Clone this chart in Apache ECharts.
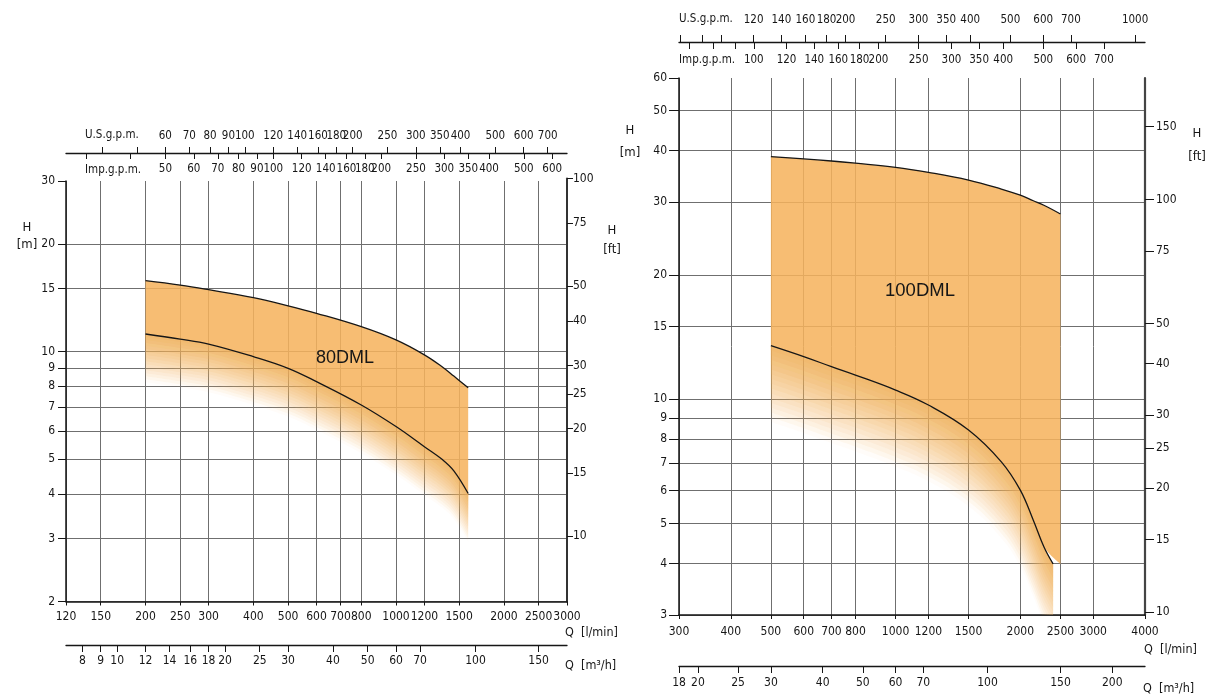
<!DOCTYPE html>
<html><head><meta charset="utf-8">
<script src="https://cdn.jsdelivr.net/npm/echarts@6/dist/echarts.min.js"></script>
<style>html,body{margin:0;padding:0;background:#fff}#c{width:1208px;height:700px}</style>
</head><body><div id="c"></div>
<script>
// ---------- 80DML (left chart) : Q [l/min], H [m]
const q80 = [200, 250, 300, 400, 500, 600, 800, 1000, 1200, 1350, 1450, 1590];
const h80Max = [15.8, 15.35, 14.9, 14.15, 13.43, 12.8, 11.74, 10.78, 9.79, 9.04, 8.54, 7.92];
const h80Min = [11.2, 10.84, 10.5, 9.68, 8.98, 8.24, 7.09, 6.17, 5.42, 4.98, 4.64, 4.01];
// ---------- 100DML (right chart)
const q100Max = [500, 600, 700, 800, 1000, 1200, 1500, 1800, 2000, 2150, 2280, 2500];
const h100Max = [38.7, 38.2, 37.76, 37.3, 36.45, 35.45, 33.96, 32.3, 31.2, 30.25, 29.5, 28.1];
const q100Min = [500, 600, 700, 800, 1000, 1200, 1500, 1800, 2000, 2150, 2280, 2400];
const h100Min = [13.48, 12.68, 11.99, 11.44, 10.52, 9.68, 8.42, 7.05, 6.02, 5.09, 4.39, 3.99];

// ---------- tick values, left chart
const lRangeQ = [120, 3000];
const lRangeH = [2, 30];
const lTicksQ = [120, 150, 200, 250, 300, 400, 500, 600, 700, 800, 1000, 1200, 1500, 2000, 2500, 3000];
const lTicksM3 = [8, 9, 10, 12, 14, 16, 18, 20, 25, 30, 40, 50, 60, 70, 100, 150];
const lTicksUS = [40, 50, 60, 70, 80, 90, 100, 120, 140, 160, 180, 200, 250, 300, 350, 400, 500, 600, 700];
const lLabelsUS = [60, 70, 80, 90, 100, 120, 140, 160, 180, 200, 250, 300, 350, 400, 500, 600, 700];
const lTicksImp = [30, 40, 50, 60, 70, 80, 90, 100, 120, 140, 160, 180, 200, 250, 300, 350, 400, 500, 600];
const lLabelsImp = [50, 60, 70, 80, 90, 100, 120, 140, 160, 180, 200, 250, 300, 350, 400, 500, 600];
const lTicksH = [2, 3, 4, 5, 6, 7, 8, 9, 10, 15, 20, 30];
const lTicksFt = [10, 15, 20, 25, 30, 40, 50, 75, 100];
// ---------- tick values, right chart
const rRangeQ = [300, 4000];
const rRangeH = [3, 60];
const rTicksQ = [300, 400, 500, 600, 700, 800, 1000, 1200, 1500, 2000, 2500, 3000, 4000];
const rTicksM3 = [18, 20, 25, 30, 40, 50, 60, 70, 100, 150, 200];
const rTicksUS = [80, 90, 100, 120, 140, 160, 180, 200, 250, 300, 350, 400, 500, 600, 700, 1000];
const rLabelsUS = [120, 140, 160, 180, 200, 250, 300, 350, 400, 500, 600, 700, 1000];
const rTicksImp = [70, 80, 90, 100, 120, 140, 160, 180, 200, 250, 300, 350, 400, 500, 600, 700];
const rLabelsImp = [100, 120, 140, 160, 180, 200, 250, 300, 350, 400, 500, 600, 700];
const rTicksH = [3, 4, 5, 6, 7, 8, 9, 10, 15, 20, 30, 40, 50, 60];
const rTicksFt = [10, 15, 20, 25, 30, 40, 50, 75, 100, 150];

// unit conversions
const L_US = 3.78541, L_IMP = 4.54609, M3H = 0.06, FT = 3.28084;

const lg = Math.log10;
const FONT = '"Liberation Sans Narrow","DejaVu Sans Condensed","Arial Narrow",sans-serif';
const GRIDC = '#6f6f6f';
const INK = '#161616';

function ax(o) {
  return {
    type: 'value', gridIndex: o.grid, position: o.pos, offset: o.offset || 0,
    min: lg(o.lo), max: lg(o.hi), show: o.show !== false,
    axisLine: { show: o.line !== false, onZero: false, lineStyle: { color: o.lc || INK, width: o.lw || 1.3 } },
    axisTick: { show: true, inside: !!o.inside, length: o.tl || 5, customValues: (o.ticks || []).map(lg),
      lineStyle: { color: INK, width: 1 } },
    axisLabel: { show: true, inside: !!o.inside, margin: o.margin || 8,
      customValues: (o.labels || o.ticks || []).map(lg),
      formatter: v => String(Math.round(Math.pow(10, v))),
      color: INK, fontFamily: FONT, fontSize: o.fs || 12 },
    splitLine: { show: !!o.split, showMaxLine: o.maxLine !== false, lineStyle: { color: GRIDC, width: 1 } },
    splitArea: { show: false }
  };
}

// layout
const G0 = { left: 66, right: 1208 - 567, top: 181, bottom: 700 - 601.5 };
const G1 = { left: 679, right: 1208 - 1145, top: 78, bottom: 700 - 615 };
const g0h = 700 - G0.top - G0.bottom;
const g0px = g0h / lg(lRangeH[1] / lRangeH[0]);
const G2 = { left: G0.left, right: G0.right, bottom: G0.bottom,
  top: G0.top - g0px * lg(100 / (lRangeH[1] * FT)) };

const xAxis = [
  ax({ grid: 0, pos: 'bottom', lo: lRangeQ[0], hi: lRangeQ[1], ticks: lTicksQ, tl: 4, margin: 9, split: true, lw: 1.5 }),
  ax({ grid: 0, pos: 'bottom', offset: 43.5, lo: lRangeQ[0] * M3H, hi: lRangeQ[1] * M3H, ticks: lTicksM3, tl: 7, margin: 10 }),
  ax({ grid: 0, pos: 'top', offset: 28, lo: lRangeQ[0] / L_US, hi: lRangeQ[1] / L_US, ticks: lTicksUS, labels: lLabelsUS, tl: 6, margin: 11, fs: 11.5 }),
  ax({ grid: 0, pos: 'top', offset: 28, lo: lRangeQ[0] / L_IMP, hi: lRangeQ[1] / L_IMP, ticks: lTicksImp, labels: lLabelsImp, tl: 6, margin: 10, inside: true, line: false, fs: 11.5 }),
  ax({ grid: 2, pos: 'bottom', lo: lRangeQ[0], hi: lRangeQ[1], ticks: [], show: false }),
  ax({ grid: 1, pos: 'bottom', lo: rRangeQ[0], hi: rRangeQ[1], ticks: rTicksQ, tl: 4, margin: 11, split: true, lw: 1.5 }),
  ax({ grid: 1, pos: 'bottom', offset: 51, lo: rRangeQ[0] * M3H, hi: rRangeQ[1] * M3H, ticks: rTicksM3, tl: 7, margin: 11 }),
  ax({ grid: 1, pos: 'top', offset: 36, lo: rRangeQ[0] / L_US, hi: rRangeQ[1] / L_US, ticks: rTicksUS, labels: rLabelsUS, tl: 7, margin: 16, fs: 11.5 }),
  ax({ grid: 1, pos: 'top', offset: 36, lo: rRangeQ[0] / L_IMP, hi: rRangeQ[1] / L_IMP, ticks: rTicksImp, labels: rLabelsImp, tl: 7, margin: 12, inside: true, line: false, fs: 11.5 })
];
const yAxis = [
  ax({ grid: 0, pos: 'left', lo: lRangeH[0], hi: lRangeH[1], ticks: lTicksH, tl: 8, margin: 11, split: true, maxLine: false, lw: 1.5 }),
  ax({ grid: 2, pos: 'right', lo: lRangeH[0] * FT, hi: 100, ticks: lTicksFt, tl: 6, margin: 6, lw: 2, lc: '#333' }),
  ax({ grid: 1, pos: 'left', lo: rRangeH[0], hi: rRangeH[1], ticks: rTicksH, tl: 10, margin: 12, split: true, maxLine: false, lw: 1.5 }),
  ax({ grid: 1, pos: 'right', lo: rRangeH[0] * FT, hi: rRangeH[1] * FT, ticks: rTicksFt, tl: 9, margin: 11, lw: 2.2, lc: '#444' })
];

const ORANGE = 'rgb(246,178,92)';
const BAND_A = 0.86;
const SM = 0.4;

// data points are given as [y, x] with encode so that stacking happens on the y (head) dimension
function pts(qs, fn) { return qs.map((q, i) => [fn(i), lg(q)]); }

function pumpSeries(xi, yi, qMin, hMin, qMax, hMax, D, n, id) {
  const out = [];
  const hidden = { width: 0, opacity: 0 };
  const base = { type: 'line', xAxisIndex: xi, yAxisIndex: yi, smooth: SM, symbol: 'none', silent: true,
    encode: { x: 1, y: 0 } };
  // fade below the minimum curve: overlapping layers approximating a soft gradient
  const R = [];
  for (let m = 1; m <= n; m++) {
    const f = (m - 0.5) / n;
    R[m] = 1 - BAND_A * (1 - Math.pow(f, 1.3));
  }
  R[n + 1] = 1;
  for (let j = 1; j <= n; j++) {
    const a = 1 - R[j] / R[j + 1];
    const st = id + 'f' + j;
    out.push(Object.assign({}, base, { stack: st, lineStyle: hidden, z: 2,
      data: pts(qMin, i => lg(hMin[i]) - D * j / n) }));
    out.push(Object.assign({}, base, { stack: st, lineStyle: hidden, z: 2,
      areaStyle: { color: ORANGE, opacity: a },
      data: pts(qMin, i => D * j / n) }));
  }
  // band between minimum and maximum curves
  out.push(Object.assign({}, base, { stack: id + 'b', lineStyle: hidden, z: 3,
    data: pts(qMin, i => lg(hMin[i])) }));
  out.push(Object.assign({}, base, { stack: id + 'b', lineStyle: hidden, z: 3,
    areaStyle: { color: ORANGE, opacity: BAND_A },
    data: pts(qMax, i => lg(hMax[i]) - lg(hMin[i])) }));
  // curves
  out.push(Object.assign({}, base, { lineStyle: { color: INK, width: 1.3 }, z: 5,
    data: pts(qMax, i => lg(hMax[i])) }));
  out.push(Object.assign({}, base, { lineStyle: { color: INK, width: 1.3 }, z: 5,
    data: pts(qMin, i => lg(hMin[i])) }));
  return out;
}

const series = [].concat(
  pumpSeries(0, 0, q80, h80Min, q80, h80Max, 0.135, 16, 'a'),
  pumpSeries(5, 2, q100Min, h100Min, q100Max, h100Max, 0.185, 16, 'b')
);

function T(text, x, y, size, align, fam) {
  return { type: 'text', x: x, y: y, silent: true, z: 10,
    style: { text: text, fill: INK, font: (size || 12) + 'px ' + (fam || FONT),
      align: align || 'left', verticalAlign: 'middle', textAlign: align || 'left', textVerticalAlign: 'middle' } };
}
const graphic = [
  T('U.S.g.p.m.', 85, 135, 11.5), T('Imp.g.p.m.', 85, 170, 11.5),
  T('H', 27, 228, 13, 'center'), T('[m]', 27, 245, 13, 'center'),
  T('H', 612, 231, 13, 'center'), T('[ft]', 612, 250, 13, 'center'),
  T('Q  [l/min]', 565, 633, 12.5), T('Q  [m³/h]', 565, 666, 12.5),
  T('80DML', 345, 358, 18, 'center', '"Liberation Sans",Arial,sans-serif'),
  T('U.S.g.p.m.', 679, 19, 11.5), T('Imp.g.p.m.', 679, 60, 11.5),
  T('H', 630, 131, 13, 'center'), T('[m]', 630, 153, 13, 'center'),
  T('H', 1197, 134, 13, 'center'), T('[ft]', 1197, 157, 13, 'center'),
  T('Q  [l/min]', 1144, 650, 12.5), T('Q  [m³/h]', 1143, 689, 12.5),
  T('100DML', 920, 291, 18.5, 'center', '"Liberation Sans",Arial,sans-serif')
];

const chart = echarts.init(document.getElementById('c'), null, { renderer: 'canvas' });
chart.setOption({
  animation: false,
  backgroundColor: '#fff',
  grid: [
    Object.assign({ containLabel: false, outerBoundsMode: 'none' }, G0),
    Object.assign({ containLabel: false, outerBoundsMode: 'none' }, G1),
    Object.assign({ containLabel: false, outerBoundsMode: 'none' }, G2)
  ],
  xAxis: xAxis,
  yAxis: yAxis,
  series: series,
  graphic: graphic
});
</script></body></html>
